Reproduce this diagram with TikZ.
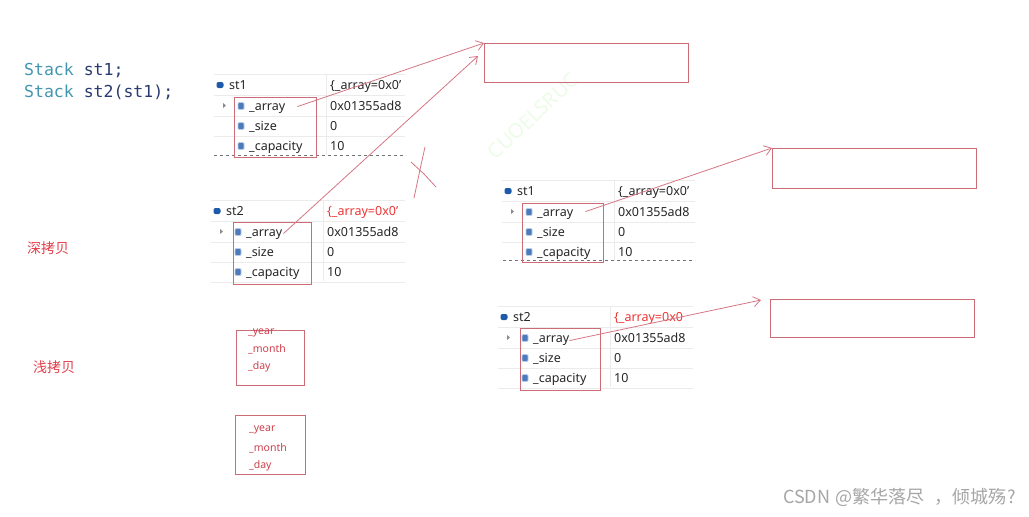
\documentclass[tikz,border=0pt]{standalone}
\usepackage{fontspec}
\setmainfont{Noto Sans}
\newfontfamily\cjk{Noto Sans CJK SC}
\newfontfamily\codefont{DejaVu Sans Mono}
\usetikzlibrary{arrows.meta}
\definecolor{boxred}{RGB}{204,108,118}
\definecolor{linered}{RGB}{214,118,132}
\definecolor{labelred}{RGB}{228,62,74}
\definecolor{valred}{RGB}{236,52,52}
\definecolor{smallred}{RGB}{205,64,76}
\definecolor{codeteal}{RGB}{66,150,176}
\definecolor{codenavy}{RGB}{40,58,112}
\definecolor{iconblue}{RGB}{30,90,170}
\definecolor{wmgreen}{RGB}{236,252,232}
\tikzset{
  wtext/.style={anchor=base west, inner sep=0pt, font=\fontsize{12.5}{14}\selectfont, text=black!85},
  rowline/.style={draw=black!8, line width=0.6pt},
  dashline/.style={draw=black!55, dashed, line width=0.8pt},
  hicon/.style={fill=iconblue, inner sep=0pt, minimum width=7pt, minimum height=6pt, rounded corners=2pt},
  ficon/.style={fill=iconblue!80, draw=iconblue!30, line width=0.9pt, inner sep=0pt, minimum width=6pt, minimum height=7pt, rounded corners=1pt},
  redbox/.style={draw=boxred, line width=1.3pt, inner sep=0pt, anchor=north west},
  bigbox/.style={draw=boxred, line width=1.2pt, inner sep=0pt, anchor=north west},
  conn/.style={draw=linered, line width=0.8pt, -{Straight Barb[length=7pt,width=10pt]}},
  cross/.style={draw=linered, line width=0.8pt},
  smalltext/.style={anchor=west, inner sep=0pt, font=\fontsize{10.5}{12}\selectfont, text=smallred},
  cnlabel/.style={anchor=west, inner sep=0pt, font=\cjk\fontsize{14}{16}\selectfont, text=labelred},
  code/.style={anchor=west, inner sep=0pt, font=\codefont\fontsize{16.5}{18}\selectfont}
}
% #1 prefix, #2 origin x, #3 header y, #4 name, #5 value, #6 value colour, #7 right x
\newcommand{\watchwin}[7]{%
  \draw[rowline] (#2,#3-11) -- (#7,#3-11);
  \draw[rowline] (#2,#3+10) -- (#7,#3+10);
  \draw[rowline] (#2,#3+31) -- (#7,#3+31);
  \draw[rowline] (#2,#3+51) -- (#7,#3+51);
  \draw[rowline] (#2+112,#3-11) -- (#2+112,#3+70);
  \node[hicon] (#1hi) at (#2+6,#3) {};
  \node[wtext] (#1name) at (#2+15,#3+4.5) {#4};
  \node[wtext,text=#6] (#1val) at (#2+116,#3+4.5) {#5};
  \fill[black!45] (#2+9,#3+18) -- (#2+12,#3+20.5) -- (#2+9,#3+23) -- cycle;
  \node[ficon] (#1ia) at (#2+27,#3+21) {};
  \node[ficon] (#1is) at (#2+27,#3+41) {};
  \node[ficon] (#1ic) at (#2+27,#3+61) {};
  \node[wtext] (#1arr) at (#2+35,#3+25.5) {\_array};
  \node[wtext] (#1siz) at (#2+35,#3+45.5) {\_size};
  \node[wtext] (#1cap) at (#2+35,#3+65.5) {\_capacity};
  \node[wtext] (#1v1) at (#2+116,#3+25.5) {0x01355ad8};
  \node[wtext] (#1v2) at (#2+116,#3+45.5) {0};
  \node[wtext] (#1v3) at (#2+116,#3+65.5) {10};
}
\begin{document}
\begin{tikzpicture}[x=1pt,y=-1pt]
\useasboundingbox[fill=white] (0,0) rectangle (1029,517);

% faint watermark
\node[rotate=43, text=wmgreen, font=\bfseries\fontsize{20}{22}\selectfont] (wm) at (533,116) {CUOELSRUC};

% code
\node[code] (c1) at (24,70) {\textcolor{codeteal}{Stack} \textcolor{codenavy}{st1;}};
\node[code] (c2) at (24,92) {\textcolor{codeteal}{Stack} \textcolor{codenavy}{st2(st1);}};

% watch windows
\watchwin{wa}{214}{85}{st1}{\{\_array=0x0'}{black!85}{405}
\draw[dashline] (214,155) -- (405,155);
\node[redbox, minimum width=82pt, minimum height=60pt] (wabox) at (234,97) {};

\watchwin{wb}{211}{211}{st2}{\{\_array=0x0'}{valred}{405}
\draw[rowline] (211,282) -- (405,282);
\node[redbox, minimum width=78pt, minimum height=62pt] (wbbox) at (233,222) {};

\watchwin{wc}{502}{191}{st1}{\{\_array=0x0'}{black!85}{695}
\draw[dashline] (503,260) -- (695,260);
\node[redbox, minimum width=81pt, minimum height=59pt] (wcbox) at (522,203) {};

\watchwin{wd}{498}{317}{st2}{\{\_array=0x0}{valred}{693}
\draw[rowline] (498,388) -- (693,388);
\node[redbox, minimum width=80pt, minimum height=62pt] (wdbox) at (520,328) {};

% big target boxes
\node[bigbox, minimum width=204pt, minimum height=39pt] (b1) at (484,43) {};
\node[bigbox, minimum width=204pt, minimum height=40pt] (b2) at (772,148) {};
\node[bigbox, minimum width=204pt, minimum height=38pt] (b3) at (770,299) {};
\coordinate (t2) at (478,56);
\coordinate (t4) at (761,300);

% connectors
\draw[conn] ([xshift=12pt,yshift=2pt]waarr.east) -- (b1.north west);
\draw[conn] ([xshift=1pt,yshift=1pt]wbarr.east) -- (t2);
\draw[conn] ([xshift=12pt,yshift=3pt]wcarr.east) -- (b2.north west);
\draw[conn] ([xshift=0pt,yshift=0pt]wdarr.east) -- (t4);

% hand-drawn cross
\draw[cross] (425,147) -- (421,165) -- (414,198);
\draw[cross] (411,162) -- (424,174) -- (436,187);

% labels
\node[cnlabel] (deep) at (27,248) {深拷贝};
\node[cnlabel] (shallow) at (33,367) {浅拷贝};

% small boxes
\node[redbox, minimum width=68pt, minimum height=55pt] (sa) at (236,330) {};
\node[smalltext] (sa1) at (248,333) {\_year};
\node[smalltext] (sa2) at (248,349) {\_month};
\node[smalltext] (sa3) at (248,367) {\_day};
\node[redbox, minimum width=70pt, minimum height=59pt] (sb) at (235,415) {};
\node[smalltext] (sb1) at (249,430) {\_year};
\node[smalltext] (sb2) at (249,448) {\_month};
\node[smalltext] (sb3) at (249,466) {\_day};

% credit
\node[anchor=west, inner sep=0pt, text=black!35, font=\cjk\fontsize{18}{20}\selectfont] (credit) at (783,497) {CSDN\hspace{5pt}@繁华落尽\hspace{10pt}，倾城殇\hspace{1pt}?};
\end{tikzpicture}
\end{document}
